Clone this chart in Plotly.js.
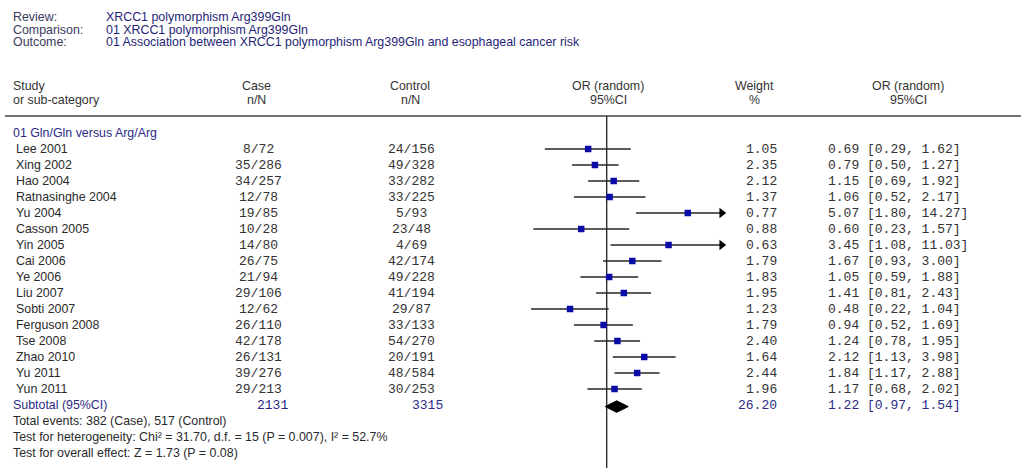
<!DOCTYPE html>
<html><head><meta charset="utf-8">
<script src="https://cdn.plot.ly/plotly-3.0.1.min.js"></script>
<style>html,body{margin:0;padding:0;background:#fff}#chart{width:1026px;height:468px}</style>
</head><body><div id="chart"></div>
<script>
// ---------- data ----------
const reviewLabels = ["Review:", "Comparison:", "Outcome:"];
const reviewValues = ["XRCC1 polymorphism Arg399Gln", "01 XRCC1 polymorphism Arg399Gln", "01 Association between XRCC1 polymorphism Arg399Gln and esophageal cancer risk"];
const colHeaders1 = ["Study", "Case", "Control", "OR (random)", "Weight", "OR (random)"];
const colHeaders2 = ["or sub-category", "n/N", "n/N", "95%CI", "%", "95%CI"];
const groupTitle = "01 Gln/Gln versus Arg/Arg";
const studies = ["Lee 2001","Xing 2002","Hao 2004","Ratnasinghe 2004","Yu 2004","Casson 2005","Yin 2005","Cai 2006","Ye 2006","Liu 2007","Sobti 2007","Ferguson 2008","Tse 2008","Zhao 2010","Yu 2011","Yun 2011"];
const caseNN = ["8/72","35/286","34/257","12/78","19/85","10/28","14/80","26/75","21/94","29/106","12/62","26/110","42/178","26/131","39/276","29/213"];
const controlNN = ["24/156","49/328","33/282","33/225","5/93","23/48","4/69","42/174","49/228","41/194","29/87","33/133","54/270","20/191","48/584","30/253"];
const weights = [1.05,2.35,2.12,1.37,0.77,0.88,0.63,1.79,1.83,1.95,1.23,1.79,2.40,1.64,2.44,1.96];
const orVals = [0.69,0.79,1.15,1.06,5.07,0.60,3.45,1.67,1.05,1.41,0.48,0.94,1.24,2.12,1.84,1.17];
const ciLow  = [0.29,0.50,0.69,0.52,1.80,0.23,1.08,0.93,0.59,0.81,0.22,0.52,0.78,1.13,1.17,0.68];
const ciHigh = [1.62,1.27,1.92,2.17,14.27,1.57,11.03,3.00,1.88,2.43,1.04,1.69,1.95,3.98,2.88,2.02];
const subtotalLabel = "Subtotal (95%CI)";
const subtotalCase = 2131;
const subtotalControl = 3315;
const subtotalWeight = 26.20;
const subtotalOR = 1.22;
const subtotalLow = 0.97;
const subtotalHigh = 1.54;
const footerLines = [
  "Total events: 382 (Case), 517 (Control)",
  "Test for heterogeneity: Chi² = 31.70, d.f. = 15 (P = 0.007), I² = 52.7%",
  "Test for overall effect: Z = 1.73 (P = 0.08)"
];
const axisMax = 10;

// ---------- layout geometry ----------
const W = 1026, H = 468;
const ROW0 = 149, ROWH = 16;          // pixel centre of first study row, row spacing
const XONE = 606.7, DEC = 115;        // pixel of OR = 1, pixels per decade
const rowOf = px => (px - ROW0) / ROWH;
const SANS = "Liberation Sans, Arial, sans-serif";
const MONO = "Liberation Mono, Courier New, monospace";
const FS = 12.4, FM = 13;
const NAVY = "#2b2b86";
const TXT = "#2a2a2a";

const n = studies.length;
const rows = studies.map((_, i) => i);
const subRow = n;

const anns = [];
function ann(text, px, y, anchor, size, color, family) {
  anns.push({text: text, x: px / W, xref: "paper", y: y, yref: "y",
    xanchor: anchor, yanchor: "middle", showarrow: false,
    font: {family: family || SANS, size: size || FS, color: color || TXT}});
}

// top review block
const topPx = [17, 29.5, 42];
reviewLabels.forEach((t, i) => ann(t, 11, rowOf(topPx[i]), "left", FS, "#3a3a5e"));
reviewValues.forEach((t, i) => ann(t, 104, rowOf(topPx[i]), "left", FS, "#1f1f78"));

// column headers
const hdrX = [11, 256, 410, 608, 754, 908];
const hdrAnchor = ["left", "center", "center", "center", "center", "center"];
colHeaders1.forEach((t, i) => ann(t, hdrX[i], rowOf(86), hdrAnchor[i], FS, "#333"));
colHeaders2.forEach((t, i) => ann(t, hdrX[i], rowOf(99.5), hdrAnchor[i], FS, "#333"));

// group title
ann(groupTitle, 11, -1, "left", FS, NAVY);

// study rows
rows.forEach(i => {
  ann(studies[i], 14, i, "left", FS, TXT);
  ann(caseNN[i], 258, i, "center", FM, "#333", MONO);
  ann(controlNN[i], 411, i, "center", FM, "#333", MONO);
  ann(weights[i].toFixed(2), 779, i, "right", FM, "#333", MONO);
  ann(orVals[i].toFixed(2) + " [" + ciLow[i].toFixed(2) + ", " + ciHigh[i].toFixed(2) + "]", 826, i, "left", FM, "#333", MONO);
});

// subtotal
ann(subtotalLabel, 11, subRow, "left", FS, NAVY);
ann(String(subtotalCase), 272, subRow, "center", FM, NAVY, MONO);
ann(String(subtotalControl), 427, subRow, "center", FM, NAVY, MONO);
ann(subtotalWeight.toFixed(2), 779, subRow, "right", FM, NAVY, MONO);
ann(subtotalOR.toFixed(2) + " [" + subtotalLow.toFixed(2) + ", " + subtotalHigh.toFixed(2) + "]", 826, subRow, "left", FM, NAVY, MONO);

// footer
footerLines.forEach((t, i) => ann(t, 11, subRow + 1 + i, "left", FS, TXT));

// ---------- traces ----------
const traces = [];
const yTop = rowOf(116), yBot = rowOf(H);

// reference line at OR = 1
traces.push({x: [1, 1], y: [yTop, yBot], mode: "lines", line: {color: "#222", width: 1.3}, hoverinfo: "skip", cliponaxis: false});

// CI lines (one trace, gaps with null)
const lx = [], ly = [];
rows.forEach(i => { lx.push(ciLow[i], Math.min(ciHigh[i], axisMax), null); ly.push(i, i, null); });
traces.push({x: lx, y: ly, mode: "lines", line: {color: "#262626", width: 1.6}, hoverinfo: "skip", cliponaxis: false});

// arrow heads where CI exceeds the axis
const ax = [], ay = [];
rows.forEach(i => { if (ciHigh[i] > axisMax) { ax.push(axisMax); ay.push(i); } });
traces.push({x: ax, y: ay, mode: "markers", marker: {symbol: "triangle-right", size: 9, color: "#000"}, hoverinfo: "skip", cliponaxis: false});

// point estimates
traces.push({x: orVals, y: rows, mode: "markers", marker: {symbol: "square", size: 6.5, color: "#0b0ba8", line: {width: 0}}, hoverinfo: "skip", cliponaxis: false});

// subtotal diamond
const dy = subRow + 0.1, dh = 0.36;
traces.push({x: [subtotalLow, subtotalOR, subtotalHigh, subtotalOR, subtotalLow],
  y: [dy, dy - dh, dy, dy + dh, dy], mode: "lines", fill: "toself", fillcolor: "#000",
  line: {color: "#000", width: 1}, hoverinfo: "skip", cliponaxis: false});

const layout = {
  width: W, height: H,
  margin: {l: 0, r: 0, t: 0, b: 0, pad: 0},
  paper_bgcolor: "#fff", plot_bgcolor: "#fff",
  showlegend: false,
  xaxis: {type: "log", domain: [0, 1], range: [-XONE / DEC, (W - XONE) / DEC],
    showgrid: false, zeroline: false, showline: false, showticklabels: false, ticks: "", fixedrange: true},
  yaxis: {domain: [0, 1], range: [(H - ROW0) / ROWH, -ROW0 / ROWH],
    showgrid: false, zeroline: false, showline: false, showticklabels: false, ticks: "", fixedrange: true},
  shapes: [{type: "line", xref: "paper", yref: "paper", x0: 5 / W, x1: 1021 / W,
    y0: 1 - 116 / H, y1: 1 - 116 / H, line: {color: "#444", width: 1.6}}],
  annotations: anns
};

Plotly.newPlot("chart", traces, layout, {staticPlot: true, displayModeBar: false});
</script>
</body></html>
